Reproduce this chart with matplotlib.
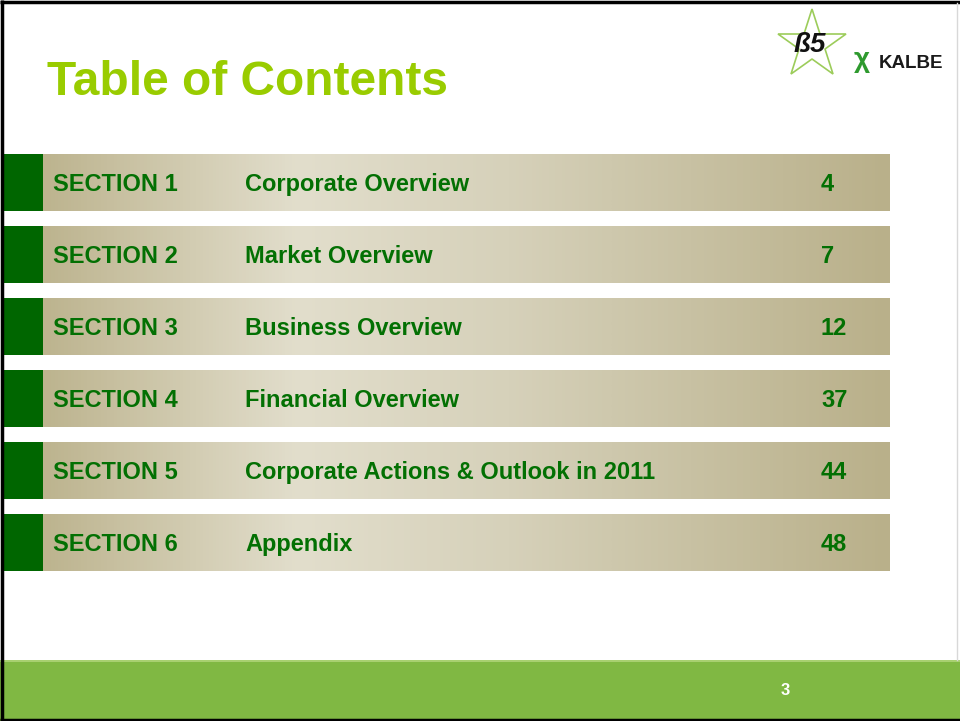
import matplotlib.pyplot as plt
import matplotlib.patches as mpatches
from matplotlib.colors import LinearSegmentedColormap
import numpy as np

plt.rcParams['font.family'] = ['Liberation Sans', 'DejaVu Sans']

sections = ['SECTION 1', 'SECTION 2', 'SECTION 3', 'SECTION 4', 'SECTION 5', 'SECTION 6']
titles = ['Corporate Overview', 'Market Overview', 'Business Overview',
          'Financial Overview', 'Corporate Actions & Outlook in 2011', 'Appendix']
pages = ['4', '7', '12', '37', '44', '48']

fig = plt.figure(figsize=(9.6, 7.21), dpi=100)
ax = fig.add_axes([0, 0, 1, 1])
ax.set_xlim(0, 960)
ax.set_ylim(721, 0)
ax.axis('off')

# tan gradient used for the section bars
tan = LinearSegmentedColormap.from_list(
    'tan', [(0, '#bdb48f'), (0.3, '#e2decc'), (0.55, '#d6d1ba'), (1, '#b9b08a')])
grad = np.linspace(0, 1, 256).reshape(1, -1)

dark_green = '#006600'
text_green = '#037003'

for i, (sec, title, page) in enumerate(zip(sections, titles, pages)):
    top = 154 + i * 72
    ax.add_patch(mpatches.Rectangle((3, top), 40, 57, color=dark_green, lw=0))
    ax.imshow(grad, cmap=tan, aspect='auto', extent=(43, 890, top + 57, top),
              interpolation='bicubic')
    base = top + 37
    for x, s in [(53, sec), (245, title), (821, page)]:
        ax.text(x, base, s, fontsize=17, fontweight='bold', color=text_green,
                va='baseline', ha='left')

# title
ax.text(47, 95, 'Table of Contents', fontsize=34.5, fontweight='bold',
        color='#99cc00', va='baseline', ha='left')

# logo (rough)
ax.plot([812], [45], marker='*', markersize=52, markerfacecolor='none',
        markeredgecolor='#9ccc5a', markeredgewidth=1.2)
ax.text(810, 45, '\u00df5', fontsize=20, fontweight='bold', color='#111111',
        va='center', ha='center', style='italic')
ax.text(862, 60, '\u03c7', fontsize=20, fontweight='bold', color='#2e9a2e',
        va='center', ha='center')
ax.text(879, 68, 'KALBE', fontsize=13.5, fontweight='bold', color='#1a1a1a',
        va='baseline', ha='left')

# footer
ax.add_patch(mpatches.Rectangle((0, 660), 960, 61, color='#80b843', lw=0))
ax.add_patch(mpatches.Rectangle((0, 660), 960, 2, color='#a8d070', lw=0))
ax.text(785, 695, '3', fontsize=12, fontweight='bold', color='white',
        va='baseline', ha='center')

# slide frame
ax.plot([1.5, 1.5], [0, 721], color='black', lw=2.5, solid_capstyle='butt')
ax.plot([0, 960], [1.5, 1.5], color='black', lw=2.5, solid_capstyle='butt')
ax.plot([0, 960], [719.5, 719.5], color='black', lw=2.5, solid_capstyle='butt')
ax.plot([957, 957], [3, 660], color='#d8d8d8', lw=1)

fig.savefig('out.png', dpi=100)
